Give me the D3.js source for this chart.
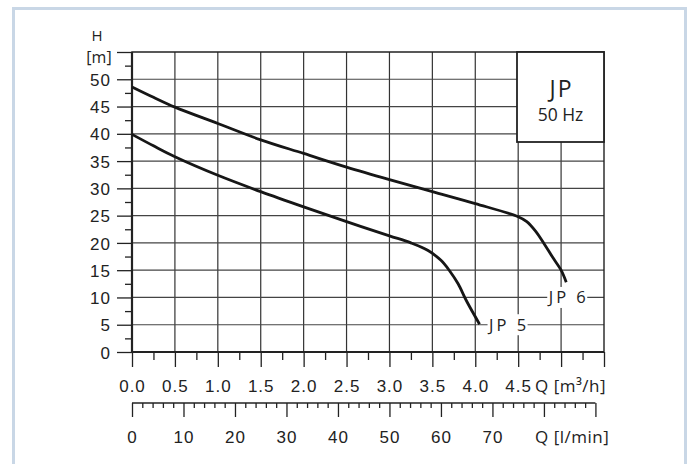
<!DOCTYPE html>
<html>
<head>
<meta charset="utf-8">
<script src="https://cdn.jsdelivr.net/npm/d3@7"></script>
<style>
  html, body { margin: 0; padding: 0; background: #fff; }
  svg { display: block; font-family: "Open Sans", "Noto Sans", sans-serif; }
  .tick line { stroke: #222; stroke-width: 1.3; }
  .tick text { fill: #222; font-size: 17px; letter-spacing: 1px; }
</style>
</head>
<body>
<div class="chart"></div>
<script>
// pump curves: Q in m3/h, H in m
const jp6Flow = [0, 0.25, 0.5, 1.0, 1.5, 2.0, 2.5, 3.0, 3.5, 4.0, 4.5, 4.6, 4.7, 4.8, 4.9, 5.0, 5.06];
const jp6Head = [48.6, 46.7, 44.9, 41.9, 38.9, 36.4, 33.9, 31.6, 29.4, 27.2, 24.8, 23.9, 22.2, 19.9, 17.4, 15.0, 12.8];
const jp5Flow = [0, 0.25, 0.5, 1.0, 1.5, 2.0, 2.5, 3.0, 3.25, 3.45, 3.6, 3.7, 3.8, 3.9, 4.05];
const jp5Head = [39.9, 37.8, 35.8, 32.4, 29.4, 26.6, 23.9, 21.3, 20.0, 18.6, 16.8, 14.9, 12.5, 9.3, 5.1];

const curveNames = ["JP 6", "JP 5"];
const headTicks = [0, 5, 10, 15, 20, 25, 30, 35, 40, 45, 50];
const flowTicks = [0, 0.5, 1.0, 1.5, 2.0, 2.5, 3.0, 3.5, 4.0, 4.5];
const lminTicks = [0, 10, 20, 30, 40, 50, 60, 70];
const titleLines = ["JP", "50 Hz"];

let chart = {};

chart.margin = { top: 52, left: 132 };
chart.width = 472;
chart.height = 300;

chart.x = d3.scaleLinear([0, 5.5], [0, chart.width]);
chart.y = d3.scaleLinear([0, 55], [chart.height, 0]);
// same flow, litres per minute
chart.xl = d3.scaleLinear([0, 5.5 * 1000 / 60], [0, chart.width]);

chart.svg = d3.select(".chart").append("svg")
    .attr("width", 690)
    .attr("height", 464);

// light blue frame around the whole figure
chart.svg.append("rect")
    .attr("x", 13.5).attr("y", 8.5)
    .attr("width", 672).attr("height", 480)
    .attr("fill", "none")
    .attr("stroke", "#c9d7e6")
    .attr("stroke-width", 3);

chart.plot = chart.svg.append("g")
    .attr("transform", `translate(${chart.margin.left},${chart.margin.top})`);

// grid
chart.plot.append("g").selectAll("line")
    .data(d3.range(0.5, 5.01, 0.5)).enter()
    .append("line")
    .attr("x1", d => chart.x(d)).attr("x2", d => chart.x(d))
    .attr("y1", 0).attr("y2", chart.height)
    .attr("stroke", "#333").attr("stroke-width", 1.2);

chart.plot.append("g").selectAll("line")
    .data(d3.range(5, 50.1, 5)).enter()
    .append("line")
    .attr("x1", 0).attr("x2", chart.width)
    .attr("y1", d => chart.y(d)).attr("y2", d => chart.y(d))
    .attr("stroke", "#444").attr("stroke-width", 1.2);

// y axis: majors, minors
let yMajor = chart.plot.append("g")
    .call(d3.axisLeft(chart.y)
        .tickValues(d3.range(0, 55.1, 5))
        .tickSize(15)
        .tickSizeOuter(0)
        .tickFormat(d => headTicks.includes(d) ? d : ""));
yMajor.select(".domain").remove();
yMajor.selectAll("text").attr("x", -21).attr("dy", "0.36em");

let yMinor = chart.plot.append("g")
    .call(d3.axisLeft(chart.y)
        .tickValues(d3.range(2.5, 55, 5))
        .tickSize(7)
        .tickFormat(""));
yMinor.select(".domain").remove();

// x axis m3/h
let xMajor = chart.plot.append("g")
    .attr("transform", `translate(0,${chart.height})`)
    .call(d3.axisBottom(chart.x)
        .tickValues(d3.range(0, 5.51, 0.5))
        .tickSize(15)
        .tickSizeOuter(0)
        .tickFormat(d => flowTicks.some(t => Math.abs(t - d) < 1e-6) ? d3.format(".1f")(d) : ""));
xMajor.select(".domain").remove();
xMajor.selectAll("text").attr("y", 40).attr("dy", null);

let xMinor = chart.plot.append("g")
    .attr("transform", `translate(0,${chart.height})`)
    .call(d3.axisBottom(chart.x)
        .tickValues(d3.range(0.25, 5.5, 0.5))
        .tickSize(8)
        .tickFormat(""));
xMinor.select(".domain").remove();

// x axis l/min
let lminY = 351;
let lMajor = chart.plot.append("g")
    .attr("transform", `translate(0,${lminY})`)
    .call(d3.axisBottom(chart.xl)
        .tickValues(d3.range(0, 90.1, 10))
        .tickSize(14)
        .tickSizeOuter(0)
        .tickFormat(d => lminTicks.includes(d) ? d : ""));
lMajor.select(".domain").remove();
lMajor.selectAll("text").attr("y", 40).attr("dy", null);

let lMinor = chart.plot.append("g")
    .attr("transform", `translate(0,${lminY})`)
    .call(d3.axisBottom(chart.xl)
        .tickValues(d3.range(2, 90, 2).filter(d => d % 10 !== 0))
        .tickSize(5)
        .tickFormat(""));
lMinor.select(".domain").remove();

chart.plot.append("line")
    .attr("x1", 0).attr("x2", chart.xl(90))
    .attr("y1", lminY).attr("y2", lminY)
    .attr("stroke", "#222").attr("stroke-width", 1.6);

// plot frame
chart.plot.append("path")
    .attr("d", `M0,0H${chart.width}V${chart.height}H0Z`)
    .attr("fill", "none").attr("stroke", "#222").attr("stroke-width", 1.4);
chart.plot.append("path")
    .attr("d", `M0,0V${chart.height}H${chart.width}`)
    .attr("fill", "none").attr("stroke", "#222").attr("stroke-width", 2.2);

// title box
let box = chart.plot.append("g")
    .attr("transform", `translate(${chart.width - 87},0)`);
box.append("rect")
    .attr("width", 87).attr("height", 90)
    .attr("fill", "#fff").attr("stroke", "#222").attr("stroke-width", 1.8);
box.append("text")
    .attr("x", 44.5).attr("y", 45)
    .attr("text-anchor", "middle")
    .style("font-size", "23px").style("letter-spacing", "2px")
    .attr("fill", "#222")
    .text(titleLines[0]);
box.append("text")
    .attr("x", 43.5).attr("y", 69)
    .attr("text-anchor", "middle")
    .style("font-size", "17.5px")
    .attr("fill", "#222")
    .text(titleLines[1]);

// curves
let line = d3.line()
    .x(d => chart.x(d[0]))
    .y(d => chart.y(d[1]))
    .curve(d3.curveCatmullRom.alpha(0.5));

let series = [
    d3.zip(jp6Flow, jp6Head),
    d3.zip(jp5Flow, jp5Head)
];

chart.plot.selectAll("path.curve")
    .data(series).enter()
    .append("path")
    .attr("class", "curve")
    .attr("d", line)
    .attr("fill", "none")
    .attr("stroke", "#161616")
    .attr("stroke-width", 2.8)
    .attr("stroke-linecap", "butt");

// curve labels, sitting on a grid line with white behind
let labelAt = [
    { x: chart.x(jp6Flow[jp6Flow.length - 1]) + 1, y: chart.y(10) },
    { x: chart.x(jp5Flow[jp5Flow.length - 1]) + 28, y: chart.y(5) }
];
curveNames.forEach((name, i) => {
    let g = chart.plot.append("g")
        .attr("transform", `translate(${labelAt[i].x},${labelAt[i].y})`);
    g.append("rect")
        .attr("x", -20).attr("y", -10.5)
        .attr("width", 40).attr("height", 21)
        .attr("fill", "#fff");
    g.append("text")
        .attr("x", 1.5).attr("y", 6)
        .attr("text-anchor", "middle")
        .style("font-size", "16.5px").style("letter-spacing", "3px")
        .attr("fill", "#222")
        .text(name);
});

// axis titles
chart.svg.append("text")
    .attr("x", 97).attr("y", 41)
    .attr("text-anchor", "middle")
    .style("font-size", "15px").attr("fill", "#222")
    .text("H");
chart.svg.append("text")
    .attr("x", 99).attr("y", 63)
    .attr("text-anchor", "middle")
    .style("font-size", "16px").attr("fill", "#222")
    .text("[m]");
chart.svg.append("text")
    .attr("x", 535).attr("y", 392)
    .style("font-size", "17px").style("letter-spacing", "0.5px").attr("fill", "#222")
    .text("Q [m³/h]");
chart.svg.append("text")
    .attr("x", 535).attr("y", 443)
    .style("font-size", "17px").style("letter-spacing", "0.5px").attr("fill", "#222")
    .text("Q [l/min]");
</script>
</body>
</html>
